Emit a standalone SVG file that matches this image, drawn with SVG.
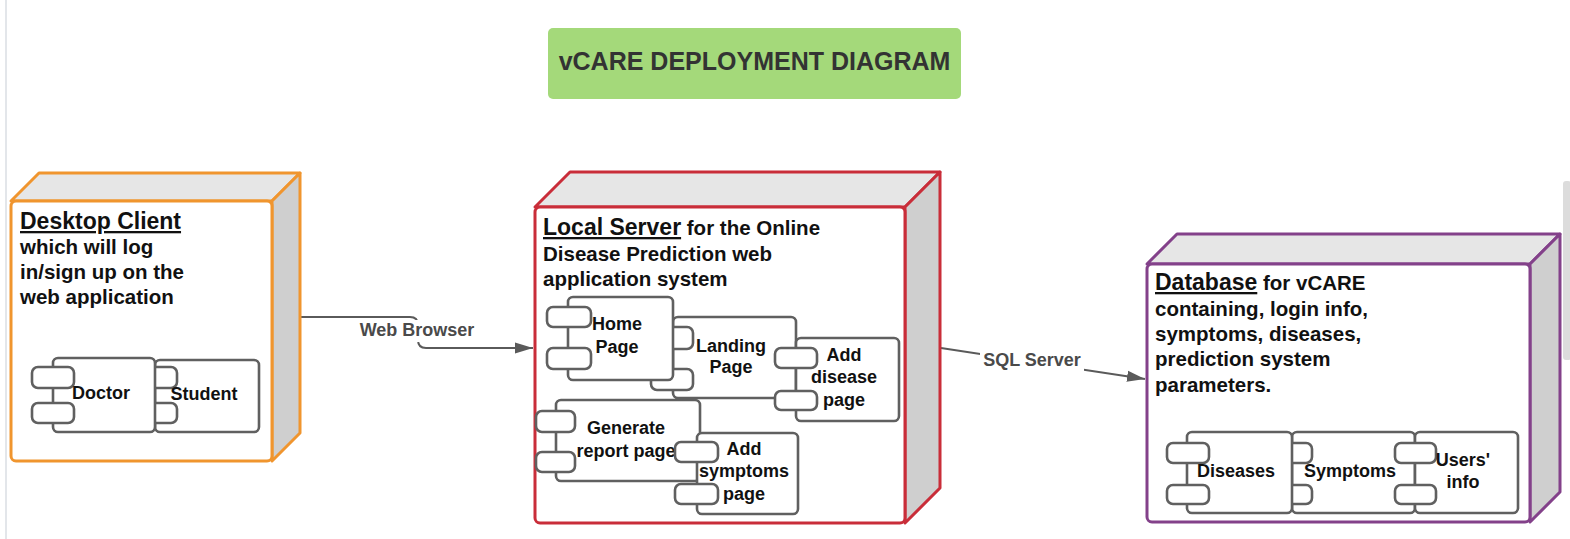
<svg xmlns="http://www.w3.org/2000/svg" width="1570" height="539" viewBox="0 0 1570 539">
<style>
  text { font-family: "Liberation Sans", Arial, sans-serif; font-weight: bold; fill: #111; }
  .head { font-size: 23px; text-decoration: underline; }
  .body { font-size: 20.5px; }
  .clabel { font-size: 18px; text-anchor: middle; }
  .elabel { font-size: 18px; text-anchor: middle; fill: #4a4a4a; }
  .title { font-size: 25px; text-anchor: middle; fill: #333; }
  .top { fill: #e6e6e6; stroke-width: 3; stroke-linejoin: round; }
  .side { fill: #cfcfcf; stroke-width: 3; stroke-linejoin: round; }
  .front { fill: #fff; stroke-width: 3; }
  .comp { fill: #fff; stroke: #606060; stroke-width: 2.6; }
  .edge { fill: none; stroke: #5a5a5a; stroke-width: 2; }
  .orange { stroke: #f0952e; }
  .red { stroke: #c92d39; }
  .purple { stroke: #83418a; }
</style>
<defs>
  <marker id="arrow" markerUnits="userSpaceOnUse" markerWidth="18" markerHeight="12" refX="18" refY="6" orient="auto">
    <path d="M0,0.5 L18,6 L0,11.5 z" fill="#5a5a5a"/>
  </marker>
</defs>

<!-- screenshot edges -->
<line x1="6" y1="0" x2="6" y2="539" stroke="#e3e6ea" stroke-width="2"/>
<rect x="1563" y="181" width="8" height="179" rx="3" fill="#dcdcdc"/>

<!-- title -->
<g id="title">
  <rect x="548" y="28" width="413" height="71" rx="5" fill="#a4d97a"/>
  <text class="title" x="754.5" y="70">vCARE DEPLOYMENT DIAGRAM</text>
</g>

<!-- connectors -->
<g id="connectors">
  <path class="edge" d="M300,317 H410 Q418,317 418,325 V340 Q418,348 426,348 H533" marker-end="url(#arrow)"/>
  <rect x="356" y="320" width="122" height="22" fill="#fff"/>
  <text class="elabel" x="417" y="336">Web Browser</text>
  <line class="edge" x1="941" y1="348" x2="1145" y2="379" marker-end="url(#arrow)"/>
  <rect x="980" y="350" width="104" height="22" fill="#fff"/>
  <text class="elabel" x="1032" y="366">SQL Server</text>
</g>

<!-- Desktop Client node -->
<g id="desktop-client">
  <path class="top orange" d="M11,201 L39,173 H300 L272,201 Z"/>
  <path class="side orange" d="M272,201 L300,173 V433 L272,461 Z"/>
  <rect class="front orange" x="11" y="201" width="261" height="260" rx="5"/>
  <text class="head" x="20" y="229">Desktop Client</text>
  <text class="body" x="20" y="254">which will log</text>
  <text class="body" x="20" y="279">in/sign up on the</text>
  <text class="body" x="20" y="304">web application</text>
  <g id="student">
    <rect class="comp" x="155" y="360" width="104" height="72" rx="5"/>
    <rect class="comp" x="134" y="367" width="43" height="21" rx="6"/>
    <rect class="comp" x="134" y="403" width="43" height="20" rx="6"/>
    <text class="clabel" x="204" y="400">Student</text>
  </g>
  <g id="doctor">
    <rect class="comp" x="53" y="358" width="102" height="74" rx="5"/>
    <rect class="comp" x="32" y="367" width="42" height="21" rx="6"/>
    <rect class="comp" x="32" y="403" width="42" height="20" rx="6"/>
    <text class="clabel" x="101" y="399">Doctor</text>
  </g>
</g>

<!-- Local Server node -->
<g id="local-server">
  <path class="top red" d="M535,207 L570,172 H940 L905,207 Z"/>
  <path class="side red" d="M905,207 L940,172 V488 L905,523 Z"/>
  <rect class="front red" x="535" y="207" width="370" height="316" rx="5"/>
  <text x="543" y="235"><tspan class="head">Local Server</tspan><tspan class="body"> for the Online</tspan></text>
  <text class="body" x="543" y="261">Disease Prediction web</text>
  <text class="body" x="543" y="286">application system</text>
  <g id="landing-page">
    <rect class="comp" x="673" y="317" width="123" height="81" rx="5"/>
    <rect class="comp" x="651" y="327" width="42" height="22" rx="6"/>
    <rect class="comp" x="651" y="369" width="42" height="21" rx="6"/>
    <text class="clabel" x="731" y="352">Landing</text>
    <text class="clabel" x="731" y="373">Page</text>
  </g>
  <g id="home-page">
    <rect class="comp" x="568" y="297" width="105" height="83" rx="5"/>
    <rect class="comp" x="547" y="307" width="44" height="20" rx="6"/>
    <rect class="comp" x="547" y="348" width="44" height="21" rx="6"/>
    <text class="clabel" x="617" y="330">Home</text>
    <text class="clabel" x="617" y="353">Page</text>
  </g>
  <g id="add-disease-page">
    <rect class="comp" x="796" y="338" width="103" height="83" rx="5"/>
    <rect class="comp" x="775" y="348" width="42" height="20" rx="6"/>
    <rect class="comp" x="775" y="391" width="42" height="19" rx="6"/>
    <text class="clabel" x="844" y="361">Add</text>
    <text class="clabel" x="844" y="383">disease</text>
    <text class="clabel" x="844" y="406">page</text>
  </g>
  <g id="generate-report-page">
    <rect class="comp" x="556" y="400" width="144" height="81" rx="5"/>
    <rect class="comp" x="536" y="411" width="39" height="21" rx="6"/>
    <rect class="comp" x="536" y="452" width="39" height="20" rx="6"/>
    <text class="clabel" x="626" y="434">Generate</text>
    <text class="clabel" x="626" y="457">report page</text>
  </g>
  <g id="add-symptoms-page">
    <rect class="comp" x="697" y="433" width="101" height="81" rx="5"/>
    <rect class="comp" x="675" y="442" width="43" height="20" rx="6"/>
    <rect class="comp" x="675" y="484" width="43" height="20" rx="6"/>
    <text class="clabel" x="744" y="455">Add</text>
    <text class="clabel" x="744" y="477">symptoms</text>
    <text class="clabel" x="744" y="500">page</text>
  </g>
</g>

<!-- Database node -->
<g id="database">
  <path class="top purple" d="M1147,264 L1177,234 H1560 L1530,264 Z"/>
  <path class="side purple" d="M1530,264 L1560,234 V492 L1530,522 Z"/>
  <rect class="front purple" x="1147" y="264" width="383" height="258" rx="5"/>
  <text x="1155" y="290"><tspan class="head">Database</tspan><tspan class="body"> for vCARE</tspan></text>
  <text class="body" x="1155" y="315.5">containing, login info,</text>
  <text class="body" x="1155" y="341">symptoms, diseases,</text>
  <text class="body" x="1155" y="366">prediction system</text>
  <text class="body" x="1155" y="391.5">parameters.</text>
  <g id="symptoms">
    <rect class="comp" x="1292" y="432" width="123" height="81" rx="5"/>
    <rect class="comp" x="1270" y="443" width="42" height="20" rx="6"/>
    <rect class="comp" x="1270" y="485" width="42" height="19" rx="6"/>
    <text class="clabel" x="1350" y="477">Symptoms</text>
  </g>
  <g id="diseases">
    <rect class="comp" x="1187" y="432" width="105" height="81" rx="5"/>
    <rect class="comp" x="1167" y="443" width="42" height="20" rx="6"/>
    <rect class="comp" x="1167" y="485" width="42" height="19" rx="6"/>
    <text class="clabel" x="1236" y="477">Diseases</text>
  </g>
  <g id="users-info">
    <rect class="comp" x="1415" y="432" width="103" height="81" rx="5"/>
    <rect class="comp" x="1395" y="443" width="41" height="20" rx="6"/>
    <rect class="comp" x="1395" y="485" width="41" height="19" rx="6"/>
    <text class="clabel" x="1463" y="466">Users'</text>
    <text class="clabel" x="1463" y="488">info</text>
  </g>
</g>
</svg>
